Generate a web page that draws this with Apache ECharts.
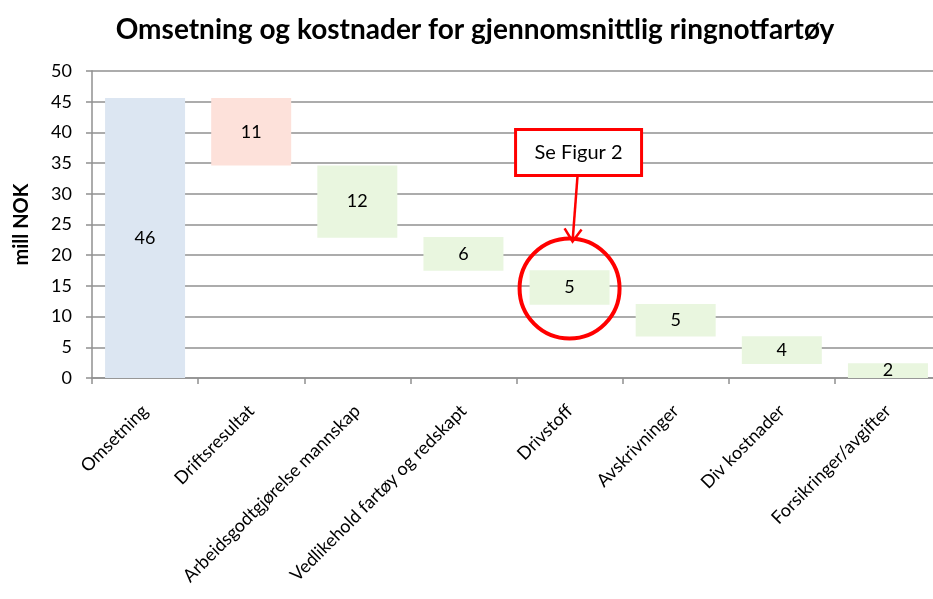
<!DOCTYPE html>
<html>
<head>
<meta charset="utf-8">
<script src="https://cdn.jsdelivr.net/npm/echarts@6/dist/echarts.min.js"></script>
<style>
html,body{margin:0;padding:0;background:#fff;overflow:hidden;width:933px;height:599px;}
#chart{width:950px;height:599px;}
</style>
</head>
<body>
<div id="chart"></div>
<script>
// Data
const categories = ['Omsetning','Driftsresultat','Arbeidsgodtgjørelse mannskap','Vedlikehold fartøy og redskapt','Drivstoff','Avskrivninger','Div kostnader','Forsikringer/avgifter'];
const bases   = [0, 34.6, 22.85, 17.45, 11.95, 6.75, 2.3, 0];
const heights = [45.6, 11.0, 11.75, 5.5, 5.6, 5.3, 4.5, 2.4];
const valueLabels = ['46','11','12','6','5','5','4','2'];
const barColors = ['#dce6f2','#fde1da','#e9f6df','#e9f6df','#e9f6df','#e9f6df','#e9f6df','#e9f6df'];
const yTicks = [0,5,10,15,20,25,30,35,40,45,50];
const titleText = 'Omsetning og kostnader for gjennomsnittlig ringnotfartøy';
const yName = 'mill NOK';
const calloutText = 'Se Figur 2';
const calloutIndex = 4;

const FONT = 'Lato, "Liberation Sans", sans-serif';
const chart = echarts.init(document.getElementById('chart'), null, {renderer:'canvas'});

const option = {
  animation:false,
  backgroundColor:'#fff',
  textStyle:{fontFamily:FONT,color:'#000'},
  title:{
    text:titleText, left:'center', top:11,
    textStyle:{fontFamily:FONT,fontSize:28,fontWeight:'bold',color:'#000'}
  },
  grid:{left:92, top:71, right:9, height:307, containLabel:false},
  xAxis:{
    type:'category', data:categories,
    axisLine:{lineStyle:{color:'#909090',width:1.5}},
    axisTick:{show:true,alignWithLabel:false,length:6,lineStyle:{color:'#909090',width:1.5}},
    axisLabel:{rotate:45, fontSize:18, color:'#000', fontFamily:FONT, margin:30, interval:0},
    splitLine:{show:false}
  },
  yAxis:{
    type:'value', min:yTicks[0], max:yTicks[yTicks.length-1], interval:yTicks[1]-yTicks[0],
    name:yName, nameLocation:'middle', nameRotate:90, nameGap:60,
    nameTextStyle:{fontSize:20,fontWeight:'bold',color:'#000',fontFamily:FONT},
    axisLine:{show:true,lineStyle:{color:'#909090',width:1.5}},
    axisTick:{show:true,length:6,lineStyle:{color:'#909090',width:1.5}},
    axisLabel:{fontSize:18,color:'#000',fontFamily:FONT,margin:20},
    splitLine:{show:true,lineStyle:{color:'#909090',width:1.5}}
  },
  series:[
    {
      type:'bar', stack:'w', data:bases, barWidth:80,
      itemStyle:{color:'rgba(0,0,0,0)'}, silent:true
    },
    {
      type:'bar', stack:'w', barWidth:80,
      data:heights.map((v,i)=>({value:v,itemStyle:{color:barColors[i]}})),
      label:{show:true, position:'inside', fontSize:18, color:'#000', fontFamily:FONT,
        formatter:p=>valueLabels[p.dataIndex]}
    }
  ]
};
chart.setOption(option);

// Callout annotation anchored to the Drivstoff bar
const mid = bases[calloutIndex] + heights[calloutIndex]/2;
const [cx, cy] = chart.convertToPixel({gridIndex:0}, [calloutIndex, mid]);
const boxW = 126, boxH = 46;
const boxX = cx - 54, boxY = cy - 158;
const arrowTopX = cx + 8, arrowTopY = boxY + boxH;
const tipX = cx + 3, tipY = cy - 46;
chart.setOption({
  graphic:[
    {type:'circle', shape:{cx:cx, cy:cy+1, r:50}, style:{fill:'none', stroke:'#ff0000', lineWidth:4}, z:100},
    {type:'line', shape:{x1:arrowTopX, y1:arrowTopY, x2:tipX, y2:tipY}, style:{stroke:'#ff0000', lineWidth:2.5}, z:100},
    {type:'polyline', shape:{points:[[tipX-8, tipY-13],[tipX, tipY],[tipX+9, tipY-12]]}, style:{fill:'none', stroke:'#ff0000', lineWidth:2.5}, z:100},
    {type:'rect', shape:{x:boxX, y:boxY, width:boxW, height:boxH}, style:{fill:'#fff', stroke:'#ff0000', lineWidth:3}, z:100},
    {type:'text', x:boxX+boxW/2, y:boxY+boxH/2, style:{text:calloutText, fontSize:20, fontFamily:FONT, fill:'#000', align:'center', verticalAlign:'middle'}, z:101}
  ]
});
</script>
</body>
</html>
